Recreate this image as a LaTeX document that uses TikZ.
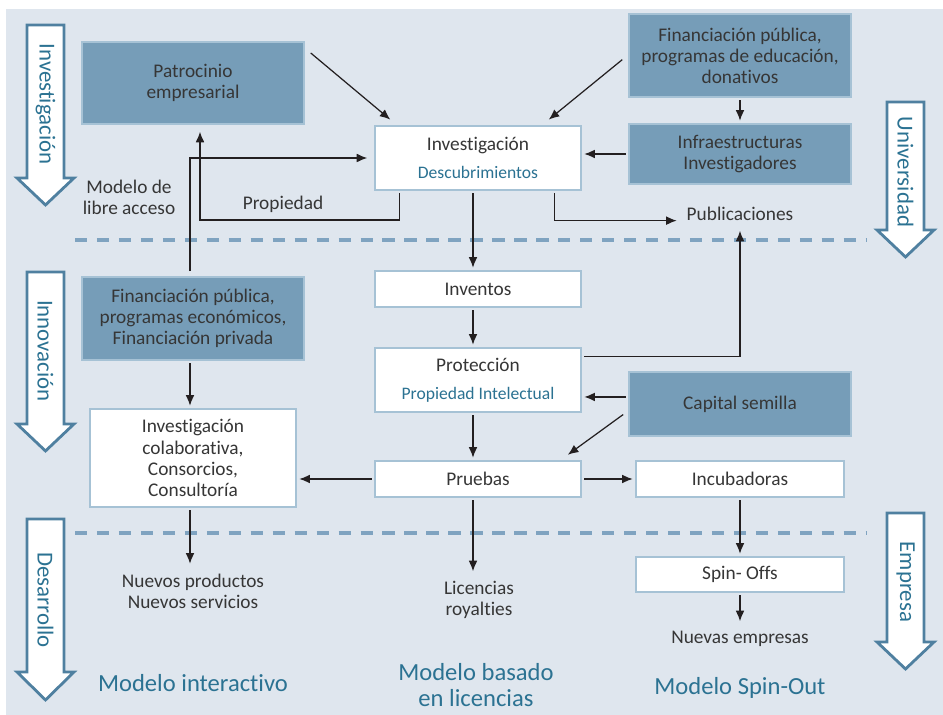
\documentclass[tikz,border=0pt]{standalone}
\usepackage{fontspec}
\setmainfont{Carlito}[Ligatures=NoCommon]
\usepackage{tikz}
\usetikzlibrary{arrows.meta,calc,positioning}
\definecolor{fondo}{HTML}{DFE6EE}
\definecolor{azuloscuro}{HTML}{769DB8}
\definecolor{bordecaja}{HTML}{A6C2D5}
\definecolor{linea}{HTML}{7FA3C0}
\definecolor{flecha}{HTML}{4F80A0}
\definecolor{turquesa}{HTML}{2B7292}
\definecolor{texto}{HTML}{363636}
\definecolor{trazo}{HTML}{231F20}

\begin{document}
\begin{tikzpicture}[x=0.02cm,y=-0.02cm,
  caja/.style 2 args={draw=bordecaja,line width=0.8pt,text=texto,align=center,inner sep=0pt,
    minimum width=#1*0.02cm,minimum height=#2*0.02cm,font=\fontsize{11}{12}\selectfont},
  oscura/.style={fill=azuloscuro},
  clara/.style={fill=white},
  etiq/.style={text=texto,align=center,inner sep=4pt,font=\fontsize{11}{12}\selectfont},
  modelo/.style={text=turquesa,align=center,inner sep=0pt,font=\fontsize{14}{15}\selectfont},
  eje/.style={text=turquesa,rotate=-90,inner sep=0pt,font=\fontsize{13}{13}\selectfont},
  flechagrande/.style={draw=flecha,fill=white,line width=1.6pt,line join=miter},
  sep/.style={draw=linea,line width=1.9pt,dash pattern=on 7pt off 5.5pt},
  arr/.style={-{Latex[length=6pt,width=5pt]},draw=trazo,line width=0.7pt,
    shorten >=1.5pt,shorten <=1.5pt}]
\useasboundingbox (0,0) rectangle (943,715);
\fill[fondo] (6,9) rectangle (943,715);
\draw[sep] (75,240) -- (867,240);
\draw[sep] (75,533) -- (867,533);
\draw[flechagrande] (27,25) -- (64,25) -- (64,178) -- (74,178) -- (45.5,205) -- (17,178) -- (27,178) -- cycle;
\draw[flechagrande] (27,272) -- (64,272) -- (64,424) -- (74,424) -- (45.5,451) -- (17,424) -- (27,424) -- cycle;
\draw[flechagrande] (27,519) -- (64,519) -- (64,672) -- (74,672) -- (45.5,700) -- (17,672) -- (27,672) -- cycle;
\draw[flechagrande] (887,102) -- (924,102) -- (924,230) -- (934,230) -- (905.5,257) -- (877,230) -- (887,230) -- cycle;
\draw[flechagrande] (887,513) -- (924,513) -- (924,642) -- (934,642) -- (905.5,669) -- (877,642) -- (887,642) -- cycle;
\node[eje] (lbinv) at (45.5,104) {Investigación};
\node[eje] (lbinn) at (45.5,351) {Innovación};
\node[eje] (lbdes) at (45.5,600) {Desarrollo};
\node[eje] (lbuni) at (905.5,172) {Universidad};
\node[eje] (lbemp) at (905.5,582) {Empresa};

\node[caja={222}{82},oscura] (patro) at (193,83) {Patrocinio\\empresarial};
\node[caja={206}{64},clara] (inv) at (478,158) {Investigación\\[4pt]{\color{turquesa}\fontsize{10}{11}\selectfont Descubrimientos}};
\node[caja={222}{83},oscura] (finedu) at (740,55.5) {Financiación pública,\\programas de educación,\\donativos};
\node[caja={222}{60},oscura] (infra) at (740,154) {Infraestructuras\\Investigadores};
\node[etiq] (publ) at (740,214) {Publicaciones};
\node[caja={206}{36},clara] (invent) at (478,289) {Inventos};
\node[caja={206}{64},clara] (prot) at (478,380) {Protección\\[4pt]{\color{turquesa}\fontsize{10}{11}\selectfont Propiedad Intelectual}};
\node[caja={206}{36},clara] (prueb) at (478,479) {Pruebas};
\node[caja={222}{83},oscura] (fineco) at (193,318.5) {Financiación pública,\\programas económicos,\\Financiación privada};
\node[caja={206}{98},clara] (colab) at (193,458) {Investigación\\colaborativa,\\Consorcios,\\Consultoría};
\node[caja={222}{64},oscura] (capital) at (740,404) {Capital semilla};
\node[caja={208}{36},clara] (incub) at (740,479) {Incubadoras};
\node[caja={208}{35},clara] (spin) at (740,574.5) {Spin- Offs};
\node[etiq] (libre) at (129,197) {Modelo de\\libre acceso};
\node[etiq] (propi) at (283,204) {Propiedad};
\node[etiq] (nprod) at (193,591) {Nuevos productos\\Nuevos servicios};
\node[etiq] (licen) at (479,600) {Licencias\\royalties};
\node[etiq] (nemp) at (740,639) {Nuevas empresas};
\node[modelo] (mint) at (193,683) {Modelo interactivo};
\node[modelo] (mlic) at (476,685) {Modelo basado\\en licencias};
\node[modelo] (mspin) at (740,688) {Modelo Spin-Out};

\coordinate (cx) at (473,0);
\coordinate (lx) at (190,0);
\coordinate (lp) at (200,220);
\draw[arr] ($(patro.north east)+(4,10)$) -- ($(inv.north west)+(18,-4)$);
\draw[arr] ($(finedu.west)+(-4,2.5)$) -- ($(inv.north east)+(-35,-4)$);
\draw[arr] (finedu) -- (infra);
\draw[arr] (infra.west) -- (infra.west -| inv.east);
\draw[arr,shorten >=4pt] ($(inv.south west)+(25,0)$) |- (lp) -- (lp |- patro.south);
\draw[arr,shorten >=4pt,shorten <=3pt] (fineco.north -| lx) |- (inv.west);
\draw[arr] ($(inv.south east)+(-27,0)$) |- (publ.base west);
\draw[arr] ($(prot.north east)+(0,9)$) -| (publ.south);
\draw[arr] ([yshift=4pt]capital.west) -- ([yshift=4pt]capital.west -| prot.east);
\draw[arr] ($(capital.west)+(-3,9)$) -- ($(prueb.north east)+(-16,-4)$);
\draw[arr] (inv.south -| cx) -- (invent.north -| cx);
\draw[arr] (invent.south -| cx) -- (prot.north -| cx);
\draw[arr] (prot.south -| cx) -- (prueb.north -| cx);
\draw[arr] (prueb.west) -- (prueb.west -| colab.east);
\draw[arr] (prueb.east) -- (incub.west);
\draw[arr] (prueb.south -| cx) -- (licen.north -| cx);
\draw[arr] (fineco.south -| lx) -- (colab.north -| lx);
\draw[arr] (colab.south -| lx) -- (nprod.north -| lx);
\draw[arr] (incub) -- (spin);
\draw[arr] (spin) -- (nemp);
\end{tikzpicture}
\end{document}
